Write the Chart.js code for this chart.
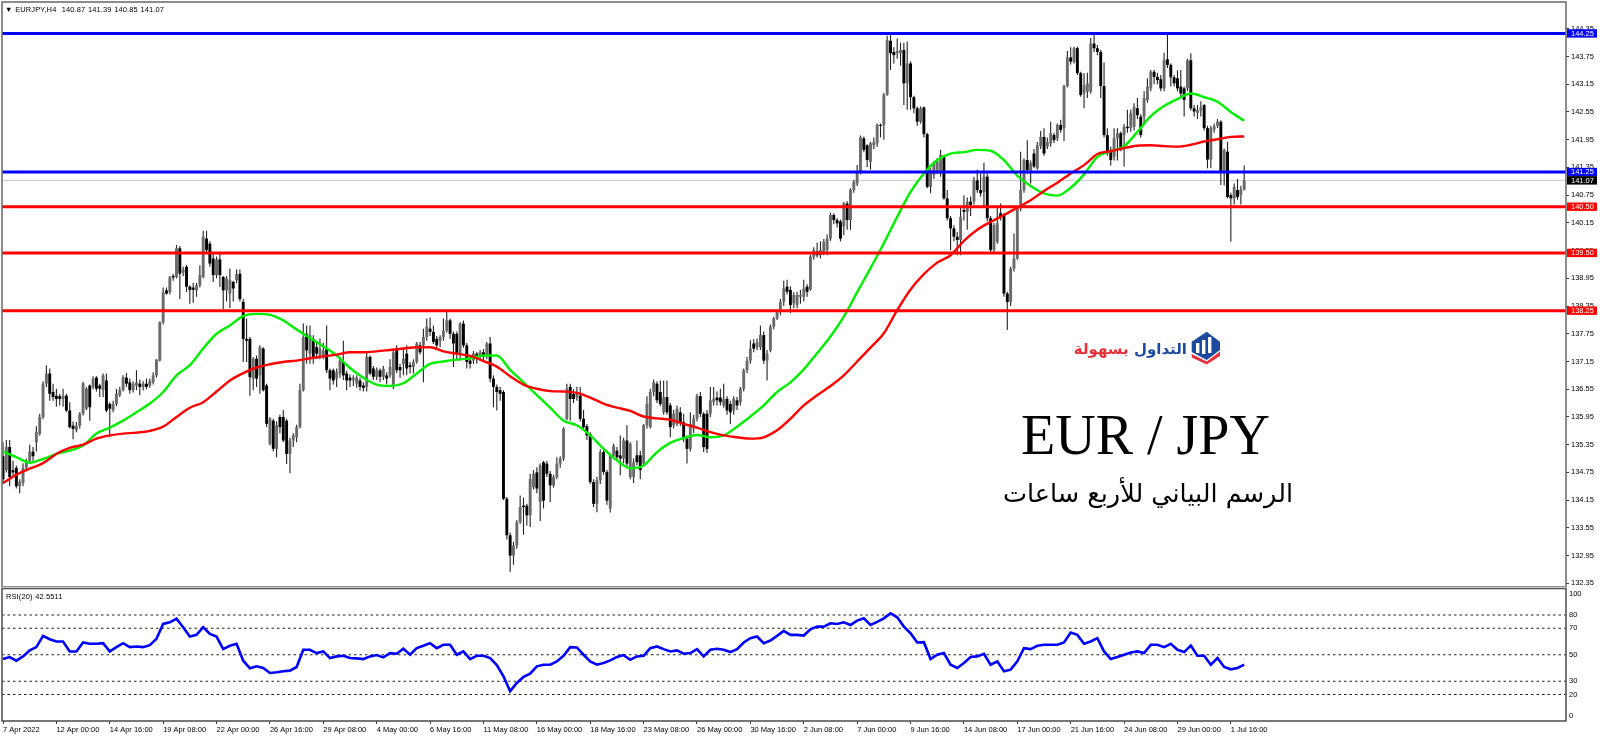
<!DOCTYPE html>
<html>
<head>
<meta charset="utf-8">
<title>EUR / JPY H4</title>
<script src="https://cdn.jsdelivr.net/npm/chart.js@4/dist/chart.umd.js"></script>
<style>
  html, body { margin: 0; padding: 0; background: #fff; width: 1600px; height: 739px; overflow: hidden; }
  canvas { position: absolute; left: 0; }
  #price { top: 0; }
  #rsi { top: 587px; }
  .note { position: absolute; white-space: nowrap; line-height: 1; }
  .small { font: 7.5px "Liberation Sans", sans-serif; color: #000; letter-spacing: 0.1px; word-spacing: 0.5px; }
</style>
</head>
<body>
<canvas id="price" width="1600" height="587"></canvas>
<canvas id="rsi" width="1600" height="152"></canvas>

<div class="note small" style="left:5px;top:5px">▼ EURJPY,H4&nbsp; 140.87 141.39 140.85 141.07</div>
<div class="note small" style="left:6px;top:592px">RSI(20) 42.5511</div>

<svg class="note" style="left:1190px;top:330px" width="32" height="36" viewBox="0 0 32 36">
  <polygon points="16.7,1.7 30,11.7 30,20 16.7,30 1.7,22 1.7,11.7" fill="#1b4a9e"/>
  <polygon points="1.7,24 16.7,31.5 30,21.5 30,26 16.7,34.5 1.7,27.5" fill="#e5303a"/>
  <rect x="6" y="13" width="3.4" height="10" fill="#fff"/>
  <rect x="12" y="10" width="3.4" height="14" fill="#fff"/>
  <rect x="18" y="7" width="3.4" height="16" fill="#fff"/>
</svg>
<div class="note" dir="rtl" style="right:413px;top:340px;font:bold 15px 'DejaVu Sans',sans-serif"><span style="color:#1b4a9e">التداول</span> <span style="color:#e5303a">بسهولة</span></div>
<div class="note" style="left:1021px;top:403px;font:56px 'Liberation Serif',serif;color:#000">EUR / JPY</div>
<div class="note" dir="rtl" style="right:307px;top:478px;font:25.5px 'DejaVu Sans',sans-serif;color:#000">الرسم البياني للأربع ساعات</div>

<script>
const opens = [
  135.10,134.80,135.30,134.80,134.85,134.45,134.52,134.85,135.00,135.20,
  135.40,135.58,135.95,136.67,136.89,136.49,136.41,136.40,136.34,136.41,
  136.09,135.76,135.66,135.76,136.02,136.13,136.63,136.60,136.80,136.63,
  136.53,136.74,136.23,136.10,136.23,136.42,136.53,136.80,136.70,136.53,
  136.63,136.67,136.60,136.67,136.63,136.70,136.85,137.17,138.00,138.69,
  138.65,139.00,138.98,139.60,139.07,139.20,138.77,138.75,138.69,138.80,
  138.98,139.81,139.70,139.38,139.02,139.36,138.98,138.69,138.62,138.87,
  138.91,139.05,138.44,137.64,137.64,136.78,137.21,136.85,137.43,136.63,
  135.37,135.87,135.26,135.95,135.95,135.87,135.15,135.44,135.51,135.73,
  136.53,137.75,137.32,137.64,137.46,137.28,137.28,137.43,136.96,136.96,
  136.78,136.89,137.14,136.89,136.80,136.74,136.67,136.74,136.63,136.60,
  137.25,137.00,136.82,136.96,136.82,136.85,136.85,136.60,137.43,137.03,
  137.10,137.32,137.07,137.03,137.14,137.50,137.50,137.68,137.86,137.79,
  137.64,137.60,137.68,137.82,138.04,137.75,137.75,137.32,137.97,137.50,
  137.17,137.17,137.32,137.25,137.35,137.28,137.54,136.78,136.60,136.53,
  136.49,134.18,133.39,132.95,133.17,133.67,134.03,134.03,133.82,134.43,
  134.75,134.11,134.97,134.94,134.72,134.47,134.65,134.94,135.05,135.91,
  136.60,136.45,136.38,136.41,135.91,135.75,135.58,134.54,134.07,134.58,
  135.19,134.76,133.97,135.12,135.22,135.12,135.05,135.44,134.65,134.65,
  135.12,135.12,134.94,135.77,135.73,136.49,136.67,136.49,136.05,136.38,
  136.20,135.77,135.80,136.05,135.84,135.48,135.26,135.70,135.91,136.40,
  136.02,136.02,136.02,136.27,136.37,136.37,136.20,136.34,136.23,136.09,
  136.31,136.27,136.56,136.96,137.17,137.54,137.46,137.46,137.72,137.17,
  137.39,137.90,138.08,138.22,138.44,138.77,138.70,138.41,138.37,138.55,
  138.55,138.77,138.71,139.42,139.53,139.45,139.53,139.56,139.81,140.32,
  140.21,140.18,140.07,140.57,140.21,140.86,141.00,141.26,141.98,141.83,
  141.47,141.83,141.87,142.27,142.27,142.92,144.09,143.85,143.82,143.82,
  143.89,143.17,143.60,142.87,142.63,142.34,142.65,142.07,140.93,141.19,
  141.26,141.22,141.58,140.68,140.25,140.03,139.85,139.78,140.43,140.39,
  140.61,140.61,141.07,140.86,140.82,141.15,140.25,139.56,139.74,140.36,
  140.32,138.62,138.44,139.16,139.38,140.46,140.86,141.51,141.22,141.65,
  141.33,141.81,142.01,141.80,141.87,142.05,141.98,142.27,142.20,143.11,
  143.73,143.64,143.93,143.39,142.95,142.99,142.99,144.03,143.93,143.85,
  143.11,142.05,141.73,141.58,141.98,142.09,142.05,142.23,142.20,142.23,
  142.63,142.45,142.45,142.81,143.06,143.42,143.31,143.26,143.06,143.69,
  143.57,143.30,143.28,143.10,143.06,143.06,143.67,142.63,142.53,142.58,
  142.70,142.20,141.52,142.17,142.25,142.34,141.26,141.69,140.75,140.68,140.86,140.75,140.87
]
const highs = [
  135.40,135.45,135.45,135.00,134.90,134.60,134.95,135.05,135.35,135.30,
  135.75,136.02,136.72,137.07,137.00,136.67,136.56,136.45,136.56,136.45,
  136.27,135.85,135.84,136.05,136.71,136.60,136.65,136.83,136.83,136.67,
  136.89,136.89,136.27,136.30,136.56,136.60,136.85,136.90,136.78,136.72,
  136.96,136.76,136.72,136.78,136.78,136.92,137.20,138.02,138.75,138.75,
  139.00,139.05,139.67,139.65,139.20,139.24,138.80,138.85,138.85,139.23,
  139.98,139.98,139.75,139.50,139.42,139.49,139.00,139.00,139.16,138.90,
  139.14,139.14,138.50,138.08,137.68,137.25,137.28,137.50,137.46,136.67,
  135.95,135.91,135.85,136.00,136.10,135.91,135.50,135.60,135.78,136.67,
  137.97,137.93,137.93,137.72,137.60,137.65,137.55,137.93,137.00,137.00,
  137.00,137.25,137.60,136.95,136.87,136.85,136.85,136.80,136.70,137.35,
  137.28,137.05,137.02,137.00,137.05,136.92,137.20,137.39,137.50,137.10,
  137.43,137.50,137.14,137.20,137.57,137.57,137.86,138.08,138.10,137.93,
  137.70,137.72,138.08,138.22,138.08,137.80,137.80,138.00,138.04,137.55,
  137.25,137.38,137.36,137.40,137.42,137.57,137.68,136.85,136.65,136.60,
  136.53,134.22,133.45,133.25,133.72,134.25,134.20,134.07,134.72,134.80,
  134.86,134.94,135.00,135.00,134.78,134.70,135.08,135.10,135.73,136.67,
  136.67,136.55,136.60,136.60,136.10,135.80,135.62,134.60,134.65,135.25,
  135.26,134.80,135.15,135.37,135.30,135.55,135.50,135.77,135.40,135.05,
  135.44,135.22,135.80,136.40,136.56,136.76,136.72,136.74,136.74,136.74,
  136.25,136.10,136.20,136.16,136.02,135.55,136.05,136.00,136.45,136.49,
  136.05,136.10,136.60,136.60,136.50,136.56,136.67,136.40,136.30,136.40,
  136.38,136.60,137.00,137.25,137.61,137.63,137.65,137.93,137.80,137.40,
  137.95,138.12,138.26,138.50,138.90,138.92,138.78,138.65,138.66,138.70,
  138.92,138.82,139.46,139.62,139.72,139.75,139.80,139.90,140.37,140.36,
  140.25,140.22,140.60,140.62,140.90,141.08,141.40,142.04,142.02,141.85,
  141.90,142.00,142.30,142.30,142.96,144.20,144.22,143.95,144.14,144.05,
  144.05,144.07,143.65,142.90,142.67,142.67,142.67,142.10,141.33,141.48,
  141.55,141.73,141.62,140.86,140.30,140.10,139.95,140.50,140.75,140.70,
  140.72,141.15,141.30,141.22,141.45,141.22,140.30,140.15,140.47,140.57,
  140.36,138.66,139.20,139.92,140.50,141.69,141.55,141.94,141.50,141.75,
  141.90,142.14,142.20,142.00,142.34,142.10,142.30,142.38,143.14,143.87,
  143.95,143.96,143.96,143.42,143.39,143.40,144.15,144.22,144.00,143.89,
  143.62,142.20,141.80,142.20,142.20,142.13,142.29,142.60,142.60,142.74,
  142.85,142.50,143.00,143.28,143.46,143.46,143.40,143.35,143.83,144.22,
  143.60,143.35,143.45,143.46,143.10,143.70,143.82,142.70,142.70,142.78,
  142.72,142.25,142.25,142.30,142.40,142.37,141.76,141.90,140.80,141.00,141.10,140.95,141.39
]
const lows = [
  134.50,134.75,134.45,134.65,134.40,134.30,134.45,134.80,134.95,135.00,
  135.20,135.55,135.90,136.60,136.30,136.30,136.17,136.20,136.17,136.05,
  135.70,135.47,135.62,135.70,135.98,136.10,135.87,136.55,136.50,136.38,
  136.38,136.05,135.51,136.05,136.18,136.38,136.50,136.60,136.45,136.48,
  136.53,136.42,136.52,136.55,136.58,136.65,136.80,137.15,137.95,138.60,
  138.60,138.90,138.95,138.50,139.00,138.65,138.40,138.42,138.55,138.75,
  138.95,139.50,139.20,138.87,138.95,138.76,138.28,138.45,138.30,138.45,
  138.85,138.45,137.14,137.14,136.41,136.53,136.60,136.45,136.50,135.73,
  135.33,135.20,135.08,135.60,135.40,134.93,134.73,135.30,135.40,135.70,
  136.50,137.10,137.10,137.10,137.20,137.20,137.20,136.90,136.53,136.65,
  136.60,136.80,136.75,136.53,136.60,136.62,136.58,136.52,136.50,136.50,
  136.85,136.75,136.75,136.70,136.75,136.65,136.80,136.55,136.90,136.80,
  136.85,136.85,136.89,136.89,137.10,137.30,136.70,137.60,137.70,137.53,
  137.45,137.46,137.60,137.78,137.64,137.03,137.20,137.17,137.45,137.00,
  137.00,137.10,137.10,137.20,137.15,137.20,136.70,136.16,136.09,136.30,
  134.15,133.30,132.60,132.75,133.10,133.64,133.40,133.60,133.57,134.38,
  134.30,133.70,133.97,134.65,134.11,134.42,134.60,134.85,135.00,135.88,
  135.87,136.25,136.30,135.85,135.68,135.45,134.50,134.00,133.89,134.50,
  134.70,134.05,133.88,135.05,135.00,134.69,134.95,134.85,134.60,134.52,
  134.90,134.60,134.90,135.70,135.70,136.40,136.25,136.18,136.00,136.00,
  135.51,135.70,135.75,135.75,135.40,134.94,135.20,135.60,135.85,135.95,
  135.19,135.17,135.95,136.20,136.20,136.20,136.15,136.00,135.80,136.00,
  136.10,136.20,136.50,136.90,137.10,137.35,137.40,137.40,137.10,136.74,
  137.35,137.85,138.05,138.15,138.35,138.60,138.20,138.30,138.30,138.40,
  138.45,138.55,138.68,139.35,139.40,139.38,139.45,139.45,139.76,140.12,
  140.05,139.75,139.88,140.00,140.00,140.80,140.95,141.20,141.68,141.36,
  141.30,141.75,141.80,142.00,141.95,142.90,143.46,143.60,143.70,143.55,
  142.70,142.60,142.60,142.52,142.25,142.30,142.00,140.90,140.79,141.10,
  141.20,141.15,140.65,140.20,139.56,139.75,139.45,139.45,140.20,140.00,
  140.30,140.55,140.80,140.72,140.50,140.18,139.50,139.50,139.70,140.20,
  138.55,137.83,138.35,139.10,139.35,140.40,140.80,141.20,141.00,141.33,
  141.30,141.75,141.60,141.75,141.80,141.88,141.92,142.10,141.92,143.08,
  143.58,143.60,143.35,142.88,142.63,142.85,142.95,143.85,143.78,142.85,
  142.00,141.60,141.39,141.50,141.50,141.70,141.37,142.10,142.12,142.15,
  142.40,142.00,142.30,142.75,143.00,143.15,143.15,143.00,143.00,143.50,
  143.10,143.10,143.00,142.88,142.45,143.00,142.58,142.45,142.40,142.45,
  142.15,141.33,141.33,142.10,142.20,140.97,140.96,140.68,139.74,140.55,140.65,140.55,140.85
]
const closes = [
  134.60,135.30,134.65,134.75,134.45,134.55,134.85,135.00,135.20,135.10,
  135.62,135.95,136.67,136.89,136.45,136.38,136.34,136.34,136.41,136.09,
  135.73,135.69,135.76,136.02,136.68,136.56,136.16,136.78,136.56,136.56,
  136.85,136.09,136.13,136.23,136.45,136.53,136.81,136.67,136.53,136.67,
  136.70,136.60,136.67,136.60,136.73,136.85,137.19,138.00,138.65,138.62,
  138.97,138.97,139.60,139.05,139.14,138.77,138.70,138.70,138.80,139.02,
  139.85,139.56,139.27,139.02,139.36,139.02,138.69,138.95,138.91,138.73,
  139.04,138.50,137.64,137.60,136.81,137.21,136.78,137.46,136.53,135.80,
  135.91,135.26,135.77,135.73,135.44,135.15,135.44,135.55,135.73,136.53,
  137.68,137.39,137.72,137.25,137.32,137.43,137.39,136.96,136.78,136.74,
  136.92,137.17,136.85,136.74,136.74,136.80,136.80,136.60,136.58,137.25,
  136.89,136.82,136.96,136.82,136.99,136.78,137.03,137.35,136.96,136.96,
  137.21,137.00,137.03,137.14,137.54,137.35,137.68,137.90,137.79,137.57,
  137.50,137.68,137.82,138.04,137.75,137.54,137.32,137.97,137.50,137.14,
  137.10,137.32,137.21,137.35,137.25,137.54,136.78,136.60,136.49,136.45,
  134.18,133.39,132.95,133.17,133.67,134.00,134.00,133.82,134.61,134.72,
  134.40,134.90,134.14,134.72,134.47,134.65,134.94,135.05,135.70,136.56,
  136.34,136.34,136.45,135.91,135.73,135.55,134.54,134.07,134.58,135.19,
  134.76,134.14,135.12,135.33,135.08,135.05,135.44,134.94,135.37,134.97,
  134.97,134.80,135.77,136.23,136.49,136.70,136.31,136.23,136.38,136.05,
  135.73,136.02,136.13,135.84,135.48,135.26,135.80,135.91,136.41,136.02,
  135.30,135.26,136.31,136.34,136.31,136.27,136.34,136.09,136.05,136.34,
  136.20,136.56,136.96,137.17,137.43,137.43,137.57,137.72,137.17,137.32,
  137.90,138.08,138.22,138.44,138.73,138.66,138.37,138.59,138.59,138.59,
  138.73,138.66,139.42,139.56,139.45,139.56,139.74,139.81,140.32,140.21,
  140.14,139.81,140.57,140.21,140.87,141.04,141.25,142.00,141.73,141.51,
  141.87,141.90,142.27,142.25,142.92,144.11,143.82,143.78,143.87,143.89,
  143.17,143.60,142.87,142.63,142.34,142.63,142.07,140.93,141.29,141.44,
  141.47,141.62,140.68,140.25,140.03,139.85,139.78,140.28,140.39,140.61,
  140.54,141.07,140.86,140.79,141.15,140.25,139.56,140.10,140.14,140.28,
  138.62,138.44,139.16,139.38,140.46,140.86,141.51,141.29,141.44,141.37,
  141.83,142.01,141.65,141.90,142.09,141.94,142.27,142.16,143.11,143.73,
  143.64,143.93,143.39,142.92,143.13,143.17,144.03,143.93,143.85,143.11,
  142.05,141.69,141.51,141.98,142.09,141.76,142.23,142.20,142.52,142.66,
  142.48,142.05,142.85,143.10,143.42,143.31,143.24,143.06,143.67,143.57,
  143.30,143.17,143.06,142.95,142.81,143.67,142.63,142.56,142.59,142.65,
  142.20,141.52,142.20,142.24,142.34,141.26,141.73,140.71,140.68,140.93,140.71,140.87,141.07
]

// moving averages
const maGreen = [
  135.20,135.08,134.96,135.04,135.15,135.22,135.33,135.59,135.72,135.87,
  136.05,136.24,136.49,136.85,137.07,137.43,137.75,137.93,138.13,138.18,
  138.16,138.04,137.84,137.66,137.48,137.28,137.01,136.80,136.65,136.62,
  136.68,136.89,137.10,137.15,137.19,137.22,137.28,137.28,136.97,136.70,
  136.42,136.15,135.87,135.77,135.55,135.26,135.01,134.84,134.90,135.19,
  135.39,135.49,135.56,135.51,135.55,135.74,135.96,136.20,136.49,136.70,
  136.98,137.33,137.69,138.12,138.65,139.17,139.71,140.28,140.82,141.22,
  141.51,141.65,141.68,141.73,141.71,141.51,141.17,140.95,140.79,140.74,
  140.91,141.20,141.58,141.70,141.81,142.12,142.46,142.68,142.83,142.95,
  142.87,142.77,142.55,142.36
]
const maRed = [
  134.52,134.70,134.83,134.95,135.15,135.28,135.35,135.48,135.55,135.59,
  135.61,135.65,135.74,135.95,136.15,136.27,136.50,136.74,136.90,137.02,
  137.09,137.14,137.17,137.22,137.26,137.30,137.35,137.35,137.37,137.40,
  137.43,137.46,137.46,137.37,137.32,137.27,137.16,137.04,136.83,136.65,
  136.56,136.51,136.50,136.47,136.37,136.24,136.15,136.08,135.96,135.92,
  135.89,135.80,135.72,135.62,135.55,135.51,135.48,135.51,135.66,135.91,
  136.20,136.42,136.62,136.85,137.15,137.45,137.76,138.26,138.71,139.04,
  139.29,139.45,139.76,140.00,140.17,140.32,140.48,140.64,140.84,141.02,
  141.22,141.40,141.64,141.70,141.77,141.82,141.83,141.81,141.80,141.84,
  141.91,141.96,142.01,142.02
]
const maStep = 4

// RSI(20)
const rsiValues = [
  46.75,48.25,45.5,48.75,53.25,55.75,64.25,61.75,60,60,
  52.5,52.5,59.25,58.25,58.25,58.75,52.5,55.75,58.75,55.75,
  56.25,55.75,57.25,62,73.25,74.5,77.25,70.75,63.75,65,
  70.75,65.75,63.75,54.25,56.75,58.25,45.5,39.75,41.25,40,
  36.25,36.75,37.5,38,40.75,53.75,53.75,51.25,52.5,47.5,
  48.75,49.25,47.5,47.25,46.75,48.75,49.75,48,51.25,50.75,
  54.5,50,55,56.75,58.75,55,57.5,57.5,50,52.5,
  46.75,49.25,49.25,47.5,42.25,33.75,22.5,28.75,33.25,35.75,
  41.25,42.5,42.5,45,49.25,55.75,55.5,50,45,42.5,
  43.75,45.75,48.25,49.75,46.25,48.75,49.25,55,56.25,54.25,
  52.5,53.25,50.75,51.25,54.25,48.75,53.75,54.5,53.75,52,
  54.25,59.25,62.5,63.75,58.75,60.75,64.25,68,65,65,
  64.5,69.25,71.25,71.25,73.75,73.25,74.5,72.5,75.75,77.5,
  72.5,74.75,77.5,81.25,78.25,71.25,66.25,59.25,59.5,46.75,
  50,51.25,42.5,40,43.75,48.25,48.75,50.75,42.5,45,
  37.5,38.75,45,55,54.25,56.75,57.5,57.5,57.5,59.25,
  66.75,65,58.25,60,62.5,52.5,46.75,48.25,50,51.75,
  52.5,51.25,57.5,57.5,55.75,58.25,53.75,52,57,49.25,
  49.25,42.5,47.5,40.75,39,40,42.55
]
const rsiStep = 2

const priceTicks = [
  132.35,132.95,133.55,134.15,134.75,135.35,135.95,136.55,137.15,137.75,138.35,138.95,
  139.55,140.15,140.75,141.35,141.95,142.55,143.15,143.75,144.35
]
const rsiTicks = [80, 70, 50, 30, 20]
const rsiEnds = [100, 0]

const blueLevels = [144.25, 141.25]
const redLevels = [140.50, 139.50, 138.25]
const lastPrice = 141.07

const timeLabels = [
  '7 Apr 2022','12 Apr 00:00','14 Apr 16:00','19 Apr 08:00','22 Apr 00:00','26 Apr 16:00',
  '29 Apr 08:00','4 May 00:00','6 May 16:00','11 May 08:00','16 May 00:00','18 May 16:00',
  '23 May 08:00','26 May 00:00','30 May 16:00','2 Jun 08:00','7 Jun 00:00','9 Jun 16:00',
  '14 Jun 08:00','17 Jun 00:00','21 Jun 16:00','24 Jun 08:00','29 Jun 00:00','1 Jul 16:00'
]
const barsPerLabel = 16

const BLUE = '#0000ff'
const RED = '#ff0000'
const GREEN = '#00f000'
const FONT = { family: '"Liberation Sans", sans-serif', size: 7.5 }
const X_MIN = -0.3
const X_MAX = 468.45

const sideWidth = 34

const flatLine = (level, color, width) => ({
  type: 'line',
  data: [{ x: X_MIN, y: level }, { x: X_MAX, y: level }],
  borderColor: color,
  borderWidth: width,
  pointRadius: 0,
  order: 1
})

const sampled = (values, step) => values.map((y, k) => ({ x: k * step, y }))

const frame = (color) => ({
  id: 'frame',
  afterDraw(chart) {
    const { ctx, chartArea: a } = chart
    ctx.save()
    ctx.strokeStyle = color
    ctx.lineWidth = 1.6
    ctx.strokeRect(a.left, a.top, a.right - a.left, a.bottom - a.top)
    ctx.restore()
  }
})

const priceTags = {
  id: 'priceTags',
  afterDraw(chart) {
    const { ctx, scales } = chart
    const tags = [
      ...blueLevels.map((v) => [v, BLUE]),
      ...redLevels.map((v) => [v, RED]),
      [lastPrice, '#000']
    ]
    ctx.save()
    ctx.font = `${FONT.size}px ${FONT.family}`
    ctx.textBaseline = 'middle'
    tags.forEach(([value, color]) => {
      const y = scales.y.getPixelForValue(value)
      ctx.fillStyle = color
      ctx.fillRect(1567, y - 4.2, 30, 8.4)
      ctx.fillStyle = '#fff'
      ctx.fillText(value.toFixed(2), 1571, y + 0.3)
    })
    ctx.restore()
  }
}

const rsiEndLabels = {
  id: 'rsiEndLabels',
  afterDraw(chart) {
    const { ctx, scales } = chart
    ctx.save()
    ctx.font = `${FONT.size}px ${FONT.family}`
    ctx.fillStyle = '#000'
    ctx.textBaseline = 'middle'
    rsiEnds.forEach((value) => {
      const inset = value > 50 ? 5.5 : -5.5
      ctx.fillText(String(value), 1569, scales.y.getPixelForValue(value) + inset)
    })
    ctx.restore()
  }
}

const barIndexes = opens.map((_, i) => i)

new Chart(document.getElementById('price'), {
  type: 'bar',
  data: {
    datasets: [
      ...blueLevels.map((v) => flatLine(v, BLUE, 3)),
      ...redLevels.map((v) => flatLine(v, RED, 3)),
      { ...flatLine(lastPrice, '#c8c8c8', 1), order: 6 },
      {
        type: 'line',
        data: sampled(maRed, maStep),
        borderColor: RED,
        borderWidth: 2.4,
        pointRadius: 0,
        cubicInterpolationMode: 'monotone',
        order: 2
      },
      {
        type: 'line',
        data: sampled(maGreen, maStep),
        borderColor: GREEN,
        borderWidth: 2.4,
        pointRadius: 0,
        cubicInterpolationMode: 'monotone',
        order: 3
      },
      {
        data: barIndexes.map((i) => ({ x: i, y: [opens[i], closes[i]] })),
        backgroundColor: barIndexes.map((i) => (closes[i] >= opens[i] ? '#6a6a6a' : '#000')),
        barThickness: 2.9,
        minBarLength: 1,
        order: 4
      },
      {
        data: barIndexes.map((i) => ({ x: i, y: [lows[i], highs[i]] })),
        backgroundColor: '#222',
        barThickness: 1.1,
        order: 5
      }
    ]
  },
  options: {
    responsive: false,
    devicePixelRatio: 1,
    animation: false,
    events: [],
    datasets: { bar: { grouped: false, inflateAmount: 0 } },
    layout: { padding: { left: 2, top: 2, right: 0, bottom: 0 } },
    plugins: { legend: { display: false }, tooltip: { enabled: false } },
    scales: {
      x: { type: 'linear', min: X_MIN, max: X_MAX, offset: false, display: false },
      y: {
        type: 'linear',
        position: 'right',
        min: 132.27,
        max: 144.93,
        afterBuildTicks: (scale) => { scale.ticks = priceTicks.map((value) => ({ value })) },
        afterFit: (scale) => {
          scale.width = sideWidth
          scale.paddingTop = 0
          scale.paddingBottom = 0
        },
        border: { display: false },
        grid: { drawOnChartArea: false, tickLength: 3, color: '#333' },
        ticks: {
          font: FONT,
          color: '#000',
          padding: 2,
          autoSkip: false,
          callback: (v) => v.toFixed(2)
        }
      }
    }
  },
  plugins: [frame('#707070'), priceTags]
})

new Chart(document.getElementById('rsi'), {
  type: 'line',
  data: {
    datasets: [
      ...rsiTicks.map((v) => ({
        data: [{ x: X_MIN, y: v }, { x: X_MAX, y: v }],
        borderColor: '#222',
        borderWidth: 1.2,
        borderDash: [2.5, 3],
        pointRadius: 0,
        order: 2
      })),
      {
        data: sampled(rsiValues, rsiStep),
        borderColor: BLUE,
        borderWidth: 2.6,
        pointRadius: 0,
        order: 1
      }
    ]
  },
  options: {
    responsive: false,
    devicePixelRatio: 1,
    animation: false,
    events: [],
    layout: { padding: { left: 2, top: 1.5, right: 0, bottom: 0 } },
    plugins: { legend: { display: false }, tooltip: { enabled: false } },
    scales: {
      x: {
        type: 'linear',
        min: X_MIN,
        max: X_MAX,
        afterBuildTicks: (scale) => { scale.ticks = timeLabels.map((_, k) => ({ value: k * barsPerLabel })) },
        afterFit: (scale) => {
          scale.height = 18
          scale.paddingLeft = 0
          scale.paddingRight = 0
        },
        border: { display: false },
        grid: { drawOnChartArea: false, tickLength: 3, color: '#333' },
        ticks: {
          font: FONT,
          color: '#000',
          padding: 1,
          align: 'start',
          autoSkip: false,
          maxRotation: 0,
          callback: (v) => timeLabels[v / barsPerLabel]
        }
      },
      y: {
        type: 'linear',
        position: 'right',
        min: 0,
        max: 100,
        afterBuildTicks: (scale) => { scale.ticks = rsiTicks.map((value) => ({ value })) },
        afterFit: (scale) => {
          scale.width = sideWidth
          scale.paddingTop = 0
          scale.paddingBottom = 0
        },
        border: { display: false },
        grid: { drawOnChartArea: false, drawTicks: false },
        ticks: { font: FONT, color: '#000', padding: 3, autoSkip: false }
      }
    }
  },
  plugins: [frame('#555'), rsiEndLabels]
})
</script>
</body>
</html>
